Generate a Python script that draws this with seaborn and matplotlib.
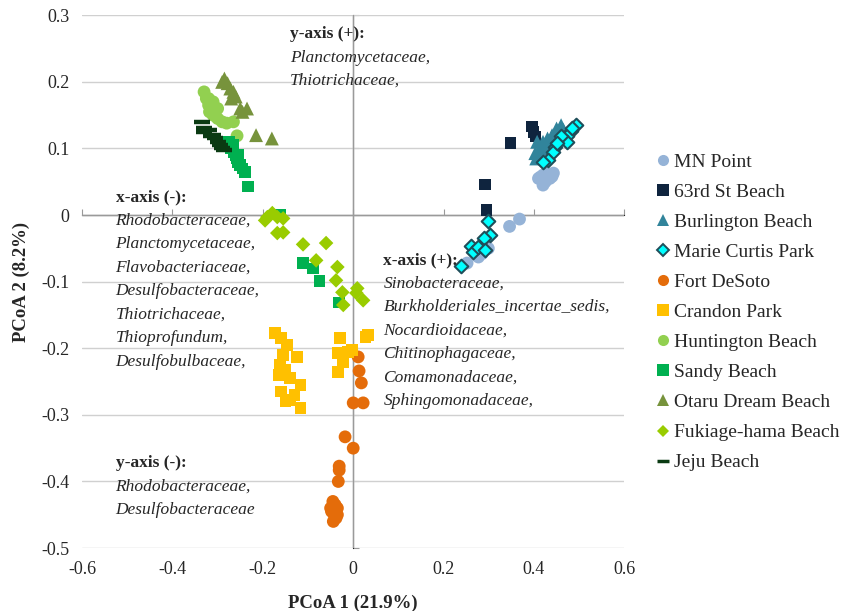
import numpy as np
import pandas as pd
import matplotlib
matplotlib.use("Agg")
import matplotlib.pyplot as plt
import seaborn as sns
from matplotlib.lines import Line2D

sns.set_style("white")
plt.rcParams['font.family'] = ['Liberation Serif', 'DejaVu Serif']

# ---------------- data ----------------
sites = ["MN Point", "63rd St Beach", "Burlington Beach", "Marie Curtis Park",
         "Fort DeSoto", "Crandon Park", "Huntington Beach", "Sandy Beach",
         "Otaru Dream Beach", "Fukiage-hama Beach", "Jeju Beach"]

mn_x = [0.41, 0.42, 0.43, 0.44, 0.425, 0.42, 0.435, 0.414, 0.443, 0.346, 0.368, 0.299, 0.277, 0.252, 0.285]
mn_y = [0.055, 0.06, 0.062, 0.058, 0.05, 0.045, 0.055, 0.057, 0.063, -0.017, -0.006, -0.05, -0.063, -0.072, -0.058]

st63_x = [0.396, 0.399, 0.403, 0.348, 0.292, 0.295]
st63_y = [0.133, 0.125, 0.118, 0.108, 0.046, 0.008]

bur_x = [0.405, 0.41, 0.415, 0.42, 0.43, 0.44, 0.45, 0.46, 0.455, 0.435, 0.445, 0.42, 0.403, 0.407, 0.465, 0.45]
bur_y = [0.085, 0.095, 0.1, 0.11, 0.115, 0.12, 0.13, 0.135, 0.125, 0.105, 0.11, 0.1, 0.093, 0.11, 0.128, 0.12]

mcp_x = [0.492, 0.481, 0.472, 0.474, 0.447, 0.443, 0.43, 0.421, 0.46, 0.485, 0.45,
         0.299, 0.303, 0.29, 0.261, 0.264, 0.277, 0.292, 0.239]
mcp_y = [0.135, 0.126, 0.119, 0.11, 0.102, 0.095, 0.083, 0.08, 0.118, 0.13, 0.108,
         -0.009, -0.03, -0.035, -0.047, -0.056, -0.048, -0.053, -0.077]

fds_x = [0.011, 0.013, 0.018, 0.0, 0.022, -0.018, 0.0, -0.031, -0.033, -0.031,
         -0.045, -0.04, -0.035, -0.048, -0.042, -0.038, -0.044, -0.035, -0.05]
fds_y = [-0.213, -0.234, -0.252, -0.282, -0.282, -0.333, -0.35, -0.377, -0.4, -0.383,
         -0.43, -0.435, -0.44, -0.445, -0.45, -0.455, -0.46, -0.45, -0.44]

cra_x = [-0.173, -0.16, -0.146, -0.124, -0.162, -0.15, -0.165, -0.14, -0.117, -0.155,
         -0.14, -0.13, -0.117, -0.16, -0.15,
         -0.029, 0.027, 0.033, -0.035, -0.011, -0.002, -0.022, -0.033]
cra_y = [-0.177, -0.185, -0.195, -0.213, -0.225, -0.232, -0.24, -0.245, -0.255, -0.21,
         -0.278, -0.27, -0.29, -0.265, -0.28,
         -0.185, -0.183, -0.18, -0.207, -0.206, -0.203, -0.221, -0.236]

hun_x = [-0.33, -0.325, -0.32, -0.318, -0.31, -0.3, -0.29, -0.28, -0.265, -0.32, -0.31, -0.3, -0.257]
hun_y = [0.185, 0.175, 0.165, 0.155, 0.15, 0.145, 0.14, 0.138, 0.14, 0.175, 0.17, 0.16, 0.119]

san_x = [-0.275, -0.27, -0.265, -0.26, -0.258, -0.255, -0.25, -0.245, -0.24, -0.265, -0.255, -0.233,
         -0.162, -0.111, -0.089, -0.075, -0.031]
san_y = [0.11, 0.1, 0.095, 0.09, 0.085, 0.08, 0.075, 0.07, 0.065, 0.105, 0.09, 0.043,
         0.0, -0.072, -0.08, -0.099, -0.131]

ota_x = [-0.285, -0.278, -0.272, -0.265, -0.26, -0.25, -0.245, -0.235, -0.215, -0.18, -0.29, -0.27]
ota_y = [0.205, 0.198, 0.19, 0.185, 0.178, 0.16, 0.155, 0.16, 0.12, 0.115, 0.2, 0.175]

fuk_x = [-0.19, -0.195, -0.179, -0.168, -0.155, -0.168, -0.155, -0.111, -0.06, -0.082,
         -0.035, -0.038, -0.024, -0.022, 0.009, 0.007, 0.022]
fuk_y = [-0.003, -0.008, 0.003, -0.003, -0.005, -0.027, -0.026, -0.044, -0.042, -0.068,
         -0.078, -0.098, -0.116, -0.135, -0.11, -0.117, -0.128]

jej_x = [-0.335, -0.33, -0.32, -0.31, -0.305, -0.3, -0.295, -0.29, -0.285, -0.33, -0.315]
jej_y = [0.14, 0.13, 0.128, 0.12, 0.115, 0.11, 0.105, 0.1, 0.097, 0.125, 0.118]

xs = [mn_x, st63_x, bur_x, mcp_x, fds_x, cra_x, hun_x, san_x, ota_x, fuk_x, jej_x]
ys = [mn_y, st63_y, bur_y, mcp_y, fds_y, cra_y, hun_y, san_y, ota_y, fuk_y, jej_y]

colors = ["#95B3D7", "#0F243E", "#31849B", "#00FFFF", "#E46C0A", "#FFC000",
          "#92D050", "#00B050", "#77933C", "#99CC00", "#0A3A12"]
edges = [None, None, None, "#1F4E5A", None, None, None, None, None, None, None]
markers = ["o", "s", "^", "D", "o", "s", "o", "s", "^", "D", "_"]
sizes = [85, 70, 100, 48, 85, 70, 85, 70, 100, 55, 120]

xticks = [-0.6, -0.4, -0.2, 0.0, 0.2, 0.4, 0.6]
yticks = [0.3, 0.2, 0.1, 0.0, -0.1, -0.2, -0.3, -0.4, -0.5]

df = pd.concat([pd.DataFrame({"PCoA1": x, "PCoA2": y, "site": s})
                for s, x, y in zip(sites, xs, ys)], ignore_index=True)

# ---------------- figure ----------------
fig = plt.figure(figsize=(8.46, 6.11), dpi=100)
ax = fig.add_axes([0.097, 0.103, 0.641, 0.872])

for i, s in enumerate(sites):
    sub = df[df.site == s]
    kw = dict(color=colors[i], marker=markers[i], s=sizes[i], ax=ax, zorder=3)
    if markers[i] == "_":
        kw.update(linewidth=3.2, edgecolor=colors[i])
    elif edges[i]:
        kw.update(edgecolor=edges[i], linewidth=1.5)
    else:
        kw.update(edgecolor="none", linewidth=0)
    sns.scatterplot(data=sub, x="PCoA1", y="PCoA2", legend=False, **kw)

ax.set_xlim(-0.6, 0.6)
ax.set_ylim(-0.5, 0.3)
ax.set_xticks(xticks)
ax.set_yticks(yticks)
ax.set_xticklabels([("0" if v == 0 else f"{v:g}") for v in xticks], fontsize=13)
ax.set_yticklabels([("0" if v == 0 else f"{v:g}") for v in yticks], fontsize=13)
ax.tick_params(axis="both", length=0, pad=9)
for sp in ax.spines.values():
    sp.set_visible(False)
ax.yaxis.grid(True, color="#D0D0D0", linewidth=1)
ax.xaxis.grid(False)
ax.set_axisbelow(True)
ax.axvline(0, color="#9A9A9A", linewidth=1, zorder=1)
ax.axhline(0, color="#9A9A9A", linewidth=1, zorder=1)

# small tick marks on the crossing axes (Excel style)
sx = ax.secondary_xaxis(0.625)
sx.set_xticks(xticks)
sx.set_xticklabels([])
sx.tick_params(length=4, color="#9A9A9A", direction="out")
sx.spines["bottom"].set_visible(False)
sy = ax.secondary_yaxis(0.5)
sy.set_yticks(yticks)
sy.set_yticklabels([])
sy.tick_params(length=4, color="#9A9A9A", direction="out")
sy.spines["left"].set_visible(False)

ax.set_xlabel("PCoA 1 (21.9%)", fontsize=13.5, fontweight="bold", labelpad=12)
ax.set_ylabel("PCoA 2 (8.2%)", fontsize=13.5, fontweight="bold", labelpad=8)

# ---------------- annotations ----------------
px = 1.0 / 666.0  # data units per pixel (y)
def block(x, ytop_px, title, lines):
    y0 = (215 - ytop_px) * px
    ax.text(x, y0, title, fontsize=12.5, fontweight="bold", va="center", ha="left", zorder=4)
    for k, ln in enumerate(lines):
        ax.text(x, y0 - (k + 1) * 23.5 * px, ln, fontsize=12.5, style="italic",
                va="center", ha="left", zorder=4)

block(-0.14, 34, "y-axis (+):", ["Planctomycetaceae,", "Thiotrichaceae,"])
block(-0.526, 197, "x-axis (-):", ["Rhodobacteraceae,", "Planctomycetaceae,", "Flavobacteriaceae,",
                                  "Desulfobacteraceae,", "Thiotrichaceae,", "Thioprofundum,",
                                  "Desulfobulbaceae,"])
block(0.067, 260, "x-axis (+):", ["Sinobacteraceae,", "Burkholderiales_incertae_sedis,",
                                 "Nocardioidaceae,", "Chitinophagaceae,", "Comamonadaceae,",
                                 "Sphingomonadaceae,"])
block(-0.526, 463, "y-axis (-):", ["Rhodobacteraceae,", "Desulfobacteraceae"])

# ---------------- legend ----------------
handles = []
for i, s in enumerate(sites):
    if markers[i] == "_":
        h = Line2D([], [], color=colors[i], marker="_", linestyle="none", markersize=9,
                   markeredgewidth=2.5)
    else:
        h = Line2D([], [], color=colors[i], marker=markers[i], linestyle="none",
                   markersize=8 if markers[i] != "D" else 6.5,
                   markerfacecolor=colors[i],
                   markeredgecolor=edges[i] if edges[i] else colors[i],
                   markeredgewidth=1.4 if edges[i] else 0)
    handles.append(h)
fig.legend(handles, sites, loc="upper left", bbox_to_anchor=(0.765, 0.762),
           frameon=False, fontsize=14, handlelength=0.8, handletextpad=0.2,
           labelspacing=0.64, borderaxespad=0)

fig.savefig("out.png", dpi=100)
